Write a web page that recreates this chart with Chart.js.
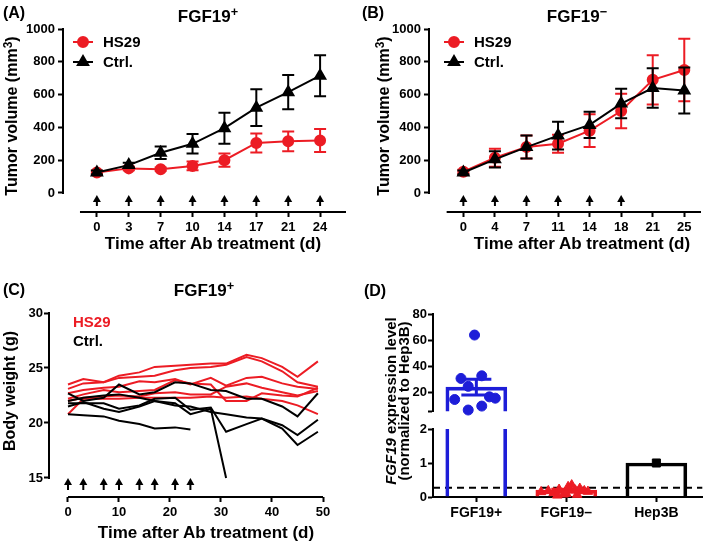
<!DOCTYPE html>
<html>
<head>
<meta charset="utf-8">
<script src="https://cdn.jsdelivr.net/npm/chart.js@4"></script>
<style>
  body { margin: 0; background: #fff; }
  #fig { position: relative; width: 709px; height: 542px; overflow: hidden;
         font-family: "Liberation Sans", Arial, sans-serif; font-weight: bold; color: #000; }
  canvas { position: absolute; }
  .t { position: absolute; white-space: nowrap; line-height: 1; }
  .ctr { transform: translate(-50%, -50%); }
  .rot { transform: translate(-50%, -50%) rotate(-90deg); }
  .t sup { font-size: 0.75em; vertical-align: 0.45em; line-height: 0; }
</style>
</head>
<body>
<div id="fig">
  <canvas id="cA" width="354" height="260" style="left:0;top:0"></canvas>
  <canvas id="cB" width="355" height="260" style="left:354px;top:0"></canvas>
  <canvas id="cC" width="354" height="282" style="left:0;top:260px"></canvas>
  <canvas id="cDu" width="355" height="120" style="left:354px;top:300px"></canvas>
  <canvas id="cDl" width="355" height="122" style="left:354px;top:420px"></canvas>

  <div class="t ctr" style="left:14px;top:13px;font-size:16px">(A)</div>
  <div class="t ctr" style="left:208px;top:16px;font-size:17px">FGF19<sup>+</sup></div>
  <div class="t rot" style="left:12px;top:116px;font-size:16px">Tumor volume (mm<sup>3</sup>)</div>
  <div class="t ctr" style="left:213px;top:243px;font-size:17px">Time after Ab treatment (d)</div>

  <div class="t ctr" style="left:373px;top:13px;font-size:16px">(B)</div>
  <div class="t ctr" style="left:577px;top:16px;font-size:17px">FGF19<sup>−</sup></div>
  <div class="t rot" style="left:384px;top:116px;font-size:16px">Tumor volume (mm<sup>3</sup>)</div>
  <div class="t ctr" style="left:582px;top:243px;font-size:17px">Time after Ab treatment (d)</div>

  <div class="t ctr" style="left:14px;top:290px;font-size:16px">(C)</div>
  <div class="t ctr" style="left:204px;top:290px;font-size:17px">FGF19<sup>+</sup></div>
  <div class="t rot" style="left:10px;top:391px;font-size:16px">Body weight (g)</div>
  <div class="t ctr" style="left:206px;top:532px;font-size:17px">Time after Ab treatment (d)</div>
  <div class="t" style="left:73px;top:314px;font-size:15px;color:#ec1c24">HS29</div>
  <div class="t" style="left:73px;top:333px;font-size:15px">Ctrl.</div>

  <div class="t ctr" style="left:375px;top:291px;font-size:16px">(D)</div>
  <div class="t rot" style="left:397px;top:401px;font-size:15px;line-height:13px;text-align:center"><i>FGF19</i> expression level<br>(normalized to Hep3B)</div>
</div>

<script>
// ---- data ----
const volumeTicks = [0, 200, 400, 600, 800, 1000];

const daysA = ['0', '3', '7', '10', '14', '17', '21', '24'];
const hs29A = [125, 150, 145, 165, 200, 305, 315, 320];
const hs29ErrA = [10, 12, 10, 27, 40, 58, 60, 70];
const ctrlA = [125, 170, 245, 300, 395, 520, 615, 715];
const ctrlErrA = [12, 15, 38, 60, 95, 112, 105, 125];
const doseA = ['0', '3', '7', '10', '14', '17', '21', '24'];

const daysB = ['0', '4', '7', '11', '14', '18', '21', '25'];
const hs29B = [130, 215, 280, 300, 380, 500, 690, 750];
const hs29ErrB = [12, 55, 70, 55, 100, 105, 150, 190];
const ctrlB = [125, 205, 280, 350, 415, 545, 640, 625];
const ctrlErrB = [12, 50, 70, 85, 80, 90, 120, 140];
const doseB = ['0', '4', '7', '11', '14', '18'];

const weightDays = [0, 3, 7, 10, 14, 17, 21, 24, 28, 31, 35, 38, 42, 45, 49];
const weightTicks = [15, 20, 25, 30];
const dayTicks = [0, 10, 20, 30, 40, 50];
const doseC = [0, 3, 7, 10, 14, 17, 21, 24];
const hs29Mice = [
  [23.5, 24.0, 23.7, 24.3, 24.6, 25.1, 25.2, 25.3, 25.4, 25.4, 26.2, 25.9, 25.1, 24.2, 25.6],
  [23.1, 23.6, 23.7, 24.1, 24.2, 24.3, 24.8, 25.0, 25.1, 25.3, 26.0, 25.6, 24.7, 23.7, 23.3],
  [22.7, 23.0, 23.2, 23.3, 23.8, 23.7, 24.0, 23.5, 24.1, 23.4, 24.1, 24.2, 23.6, 23.3, 23.1],
  [22.2, 22.6, 23.0, 22.8, 22.9, 23.0, 23.9, 23.6, 23.5, 22.0, 22.0, 22.7, 22.5, 22.4, 23.2],
  [22.0, 22.3, 22.4, 22.5, 22.4, 22.7, 22.8, 22.6, 22.6, 23.3, 23.6, 23.2, 22.8, 22.5, 22.9],
  [20.8, 22.2, 22.2, 22.2, 22.3, 22.3, 22.3, 22.3, 22.4, 22.3, 22.4, 22.2, 22.0, 21.6, 20.8]
];
const ctrlMice = [
  [22.7, 22.0, 22.3, 23.5, 22.6, 22.8, 23.7, 23.6, 23.0, 22.9, 22.2, 22.2, 21.5, 20.6, 22.7],
  [22.0, 22.3, 22.5, 22.6, 22.3, 22.0, 21.6, 21.5, 21.0, 20.8, 20.5, 20.4, 19.8, 18.9, 20.3],
  [21.8, 21.8, 21.8, 21.3, 21.6, 22.2, 22.3, 21.2, 21.4, 19.2, 19.9, 20.4, 19.5, 18.0, 19.2],
  [21.5, 21.9, 21.3, 21.0, 21.5, 22.0, 21.8, 20.8, 21.3, 15.0],
  [20.8, 20.7, 20.6, 20.2, 19.9, 19.5, 19.6, 19.4]
];

const groups = ['FGF19+', 'FGF19–', 'Hep3B'];
const groupMeans = [24.4, 0.2, 1.0];
const groupSem = [6, 0.03, 0];
const upperTicks = [20, 40, 60, 80];
const lowerTicks = [0, 1, 2];
const fgfPos = [64, 33, 31, 25, 17, 16, 15, 10, 7];
const fgfPosJitter = [-0.02, 0.06, -0.17, -0.09, 0.145, 0.21, -0.24, 0.06, -0.09];
const fgfNeg = [0.15, 0.18, 0.12, 0.22, 0.08, 0.3, 0.35, 0.2, 0.25, 0.18, 0.16, 0.05, 0.1, 0.07];
const fgfNegJitter = [-0.28, -0.2, -0.14, -0.08, -0.03, 0.02, 0.06, 0.1, 0.15, 0.2, 0.24, -0.1, 0.0, 0.12];
const hep3b = [1.0];
const detectionLimit = 0.27;

// ---- style ----
const red = '#ec1c24';
const blue = '#1d1dd8';
Chart.defaults.font.family = '"Liberation Sans", Arial, sans-serif';
Chart.defaults.font.weight = 'bold';
Chart.defaults.font.size = 13;
Chart.defaults.color = '#000';

const tickGrid = { drawOnChartArea: false, drawTicks: true, tickLength: 5, tickWidth: 2, tickColor: '#000', offset: false };
const setTicks = (vals) => (s) => { s.ticks = vals.map(v => ({ value: v })); };

// ---- plugins ----
const errorBars = {
  id: 'errorBars',
  beforeDatasetDraw(chart, args, opts) {
    const ds = chart.data.datasets[args.index];
    if (!ds.errors) return;
    const { ctx, chartArea } = chart;
    const y = chart.scales.y;
    const half = (opts.cap || 12) / 2;
    ctx.save();
    ctx.beginPath();
    ctx.rect(chartArea.left, chartArea.top - 2, chartArea.width, chartArea.height + 2);
    ctx.clip();
    ctx.lineWidth = opts.width || 2;
    args.meta.data.forEach((el, i) => {
      const e = ds.errors[i];
      if (!e) return;
      const v = ds.data[i].y;
      const top = y.getPixelForValue(v + e);
      const bot = y.getPixelForValue(v - e);
      ctx.strokeStyle = Array.isArray(ds.borderColor) ? ds.borderColor[i] : ds.borderColor;
      ctx.beginPath();
      ctx.moveTo(el.x, top); ctx.lineTo(el.x, bot);
      ctx.moveTo(el.x - half, top); ctx.lineTo(el.x + half, top);
      ctx.moveTo(el.x - half, bot); ctx.lineTo(el.x + half, bot);
      ctx.stroke();
    });
    ctx.restore();
  }
};

// axis lines that stop short of the corner, prism style
const axisLines = {
  id: 'axisLines',
  afterDraw(chart, args, opts) {
    const { ctx, chartArea, scales } = chart;
    ctx.save();
    ctx.strokeStyle = '#000';
    ctx.lineWidth = 2;
    if (opts.x) {
      ctx.beginPath();
      ctx.moveTo(scales.x.getPixelForValue(opts.x[0]), chartArea.bottom);
      ctx.lineTo(scales.x.getPixelForValue(opts.x[1]), chartArea.bottom);
      ctx.stroke();
    }
    if (opts.y) {
      ctx.beginPath();
      ctx.moveTo(chartArea.left, scales.y.getPixelForValue(opts.y[0]) + 1);
      ctx.lineTo(chartArea.left, scales.y.getPixelForValue(opts.y[1]) - 1);
      ctx.stroke();
    }
    ctx.restore();
  }
};

// treatment arrows above the time axis
const doseArrows = {
  id: 'doseArrows',
  afterDraw(chart, args, opts) {
    if (!opts.at) return;
    const { ctx, chartArea } = chart;
    const tip = chartArea.bottom - opts.tip;
    const base = chartArea.bottom - opts.base;
    ctx.save();
    ctx.strokeStyle = '#000';
    ctx.fillStyle = '#000';
    ctx.lineWidth = 2;
    opts.at.forEach(v => {
      const x = chart.scales.x.getPixelForValue(v);
      ctx.beginPath();
      ctx.moveTo(x, tip + 5); ctx.lineTo(x, base);
      ctx.stroke();
      ctx.beginPath();
      ctx.moveTo(x, tip); ctx.lineTo(x - 4, tip + 7); ctx.lineTo(x + 4, tip + 7);
      ctx.closePath();
      ctx.fill();
    });
    ctx.restore();
  }
};

const lineLegend = {
  id: 'lineLegend',
  afterDatasetsDraw(chart, args, opts) {
    if (opts.left == null) return;
    const { ctx, chartArea } = chart;
    ctx.save();
    chart.data.datasets.forEach((ds, i) => {
      const x0 = chartArea.left + opts.left;
      const y = chartArea.top + opts.top + i * opts.gap;
      ctx.strokeStyle = ds.borderColor;
      ctx.fillStyle = ds.backgroundColor;
      ctx.lineWidth = 2;
      ctx.beginPath();
      ctx.moveTo(x0, y); ctx.lineTo(x0 + 20, y);
      ctx.stroke();
      Chart.helpers.drawPoint(ctx, { pointStyle: ds.pointStyle, radius: ds.pointRadius, borderWidth: 1, rotation: 0 }, x0 + 10, y);
      ctx.fillStyle = '#000';
      ctx.font = 'bold 15px "Liberation Sans", Arial, sans-serif';
      ctx.textBaseline = 'middle';
      ctx.fillText(ds.label, x0 + 30, y + 1);
    });
    ctx.restore();
  }
};

const limitLine = {
  id: 'limitLine',
  beforeDatasetsDraw(chart, args, opts) {
    if (opts.value == null) return;
    const { ctx, chartArea } = chart;
    const y = chart.scales.y.getPixelForValue(opts.value);
    ctx.save();
    ctx.strokeStyle = '#000';
    ctx.lineWidth = 2;
    ctx.setLineDash([7, 5]);
    ctx.beginPath();
    ctx.moveTo(chartArea.left, y); ctx.lineTo(chartArea.right, y);
    ctx.stroke();
    ctx.restore();
  }
};

// ---- panels A and B ----
function timeCourse(id, days, hs, hsErr, ctrl, ctrlErr, dose, geo) {
  const idx = days.map((_, i) => i);
  return new Chart(document.getElementById(id), {
    type: 'line',
    data: {
      datasets: [
        { label: 'HS29', data: hs.map((v, i) => ({ x: i, y: v })), errors: hsErr,
          borderColor: red, backgroundColor: red, pointStyle: 'circle', pointRadius: 5,
          borderWidth: 2, tension: 0, order: 2 },
        { label: 'Ctrl.', data: ctrl.map((v, i) => ({ x: i, y: v })), errors: ctrlErr,
          borderColor: '#000', backgroundColor: '#000', pointStyle: 'triangle', pointRadius: 6,
          borderWidth: 2, tension: 0, order: 1 }
      ]
    },
    options: {
      responsive: false, animation: false, devicePixelRatio: 1,
      layout: { padding: geo.padding },
      scales: {
        x: { type: 'linear', min: geo.xMin, max: geo.xMax,
             afterBuildTicks: setTicks(idx), afterFit: s => { s.height = 28; },
             ticks: { callback: v => days[v], padding: 3, autoSkip: false, maxRotation: 0 },
             grid: tickGrid, border: { display: false } },
        y: { type: 'linear', min: -116, max: 1000,
             afterBuildTicks: setTicks(volumeTicks), afterFit: s => { s.width = 63; },
             ticks: { callback: v => v, padding: 3 },
             grid: tickGrid, border: { display: false } }
      },
      plugins: {
        legend: { display: false }, tooltip: { enabled: false },
        errorBars: { cap: 12, width: 2 },
        axisLines: { x: [-0.53, geo.xMax], y: [0, 1000] },
        doseArrows: { at: dose.map(d => days.indexOf(d)), tip: 17, base: 6 },
        lineLegend: { left: geo.legendLeft, top: 13, gap: 20 }
      }
    },
    plugins: [errorBars, axisLines, doseArrows, lineLegend]
  });
}

timeCourse('cA', daysA, hs29A, hs29ErrA, ctrlA, ctrlErrA, doseA,
  { padding: { left: 0, top: 29, right: 7, bottom: 20 }, xMin: -1.0625, xMax: 7.8125, legendLeft: 10 });
timeCourse('cB', daysB, hs29B, hs29ErrB, ctrlB, ctrlErrB, doseB,
  { padding: { left: 12, top: 29, right: 3, bottom: 20 }, xMin: -1.089, xMax: 7.53, legendLeft: 15 });

// ---- panel C ----
const mouseLine = (w, color) => ({
  data: w.map((v, i) => ({ x: weightDays[i], y: v })),
  borderColor: color, borderWidth: 2, pointRadius: 0, tension: 0
});

new Chart(document.getElementById('cC'), {
  type: 'line',
  data: { datasets: [...ctrlMice.map(w => mouseLine(w, '#000')), ...hs29Mice.map(w => mouseLine(w, red))] },
  options: {
    responsive: false, animation: false, devicePixelRatio: 1,
    layout: { padding: { left: 0, top: 53, right: 31, bottom: 15 } },
    scales: {
      x: { type: 'linear', min: -3.725, max: 50,
           afterBuildTicks: setTicks(dayTicks), afterFit: s => { s.height = 30; },
           ticks: { padding: 3, autoSkip: false, maxRotation: 0 },
           grid: tickGrid, border: { display: false } },
      y: { type: 'linear', min: 13.27, max: 30,
           afterBuildTicks: setTicks(weightTicks), afterFit: s => { s.width = 49; },
           ticks: { padding: 1 },
           grid: tickGrid, border: { display: false } }
    },
    plugins: {
      legend: { display: false }, tooltip: { enabled: false },
      axisLines: { x: [0, 50], y: [15, 30] },
      doseArrows: { at: doseC, tip: 19, base: 7 }
    }
  },
  plugins: [axisLines, doseArrows]
});

// ---- panel D (broken y axis: upper and lower parts) ----
const barSet = () => ({
  type: 'bar',
  data: groupMeans.map((v, i) => ({ x: i, y: v })),
  errors: groupSem,
  borderColor: [blue, red, '#000'],
  backgroundColor: 'rgba(0,0,0,0)',
  borderWidth: 3, barThickness: 61, clip: 0, order: 3
});
const dotSet = (vals, jitter, center, color, style, r) => ({
  type: 'scatter',
  data: vals.map((v, i) => ({ x: center + jitter[i], y: v })),
  backgroundColor: color, borderColor: color, pointStyle: style, pointRadius: r,
  clip: false, order: 1
});
const dX = (display, height) => ({
  type: 'linear', min: -0.48, max: 2.51, display, offset: false,
  afterBuildTicks: setTicks([0, 1, 2]), afterFit: s => { s.height = height; },
  ticks: { callback: v => groups[v], font: { size: 14 }, padding: 3, autoSkip: false, maxRotation: 0 },
  grid: tickGrid, border: { display: true, color: '#000', width: 2 }
});

new Chart(document.getElementById('cDu'), {
  type: 'bar',
  data: { datasets: [barSet(), dotSet(fgfPos, fgfPosJitter, 0, blue, 'circle', 5)] },
  options: {
    responsive: false, animation: false, devicePixelRatio: 1,
    layout: { padding: { left: 0, top: 14, right: 3, bottom: 5 } },
    scales: {
      x: dX(false, 0),
      y: { type: 'linear', min: 6.1, max: 80,
           afterBuildTicks: s => { s.ticks = [{ value: s.min }, ...upperTicks.map(v => ({ value: v }))]; },
           afterFit: s => { s.width = 79; },
           ticks: { callback: v => upperTicks.includes(v) ? v : '', padding: 1 },
           grid: tickGrid, border: { display: true, color: '#000', width: 2 } }
    },
    plugins: { legend: { display: false }, tooltip: { enabled: false }, errorBars: { cap: 30, width: 3 } }
  },
  plugins: [errorBars]
});

new Chart(document.getElementById('cDl'), {
  type: 'bar',
  data: { datasets: [
    barSet(),
    dotSet(fgfNeg, fgfNegJitter, 1, red, 'triangle', 5.5),
    dotSet(hep3b, [0], 2, '#000', 'rect', 5.7)
  ] },
  options: {
    responsive: false, animation: false, devicePixelRatio: 1,
    layout: { padding: { left: 0, top: 9, right: 3, bottom: 15 } },
    scales: {
      x: dX(true, 30),
      y: { type: 'linear', min: 0, max: 2,
           afterBuildTicks: setTicks(lowerTicks), afterFit: s => { s.width = 79; },
           ticks: { padding: 1 },
           grid: tickGrid, border: { display: true, color: '#000', width: 2 } }
    },
    plugins: { legend: { display: false }, tooltip: { enabled: false },
               errorBars: { cap: 30, width: 3 }, limitLine: { value: detectionLimit } }
  },
  plugins: [errorBars, limitLine]
});
</script>
</body>
</html>
